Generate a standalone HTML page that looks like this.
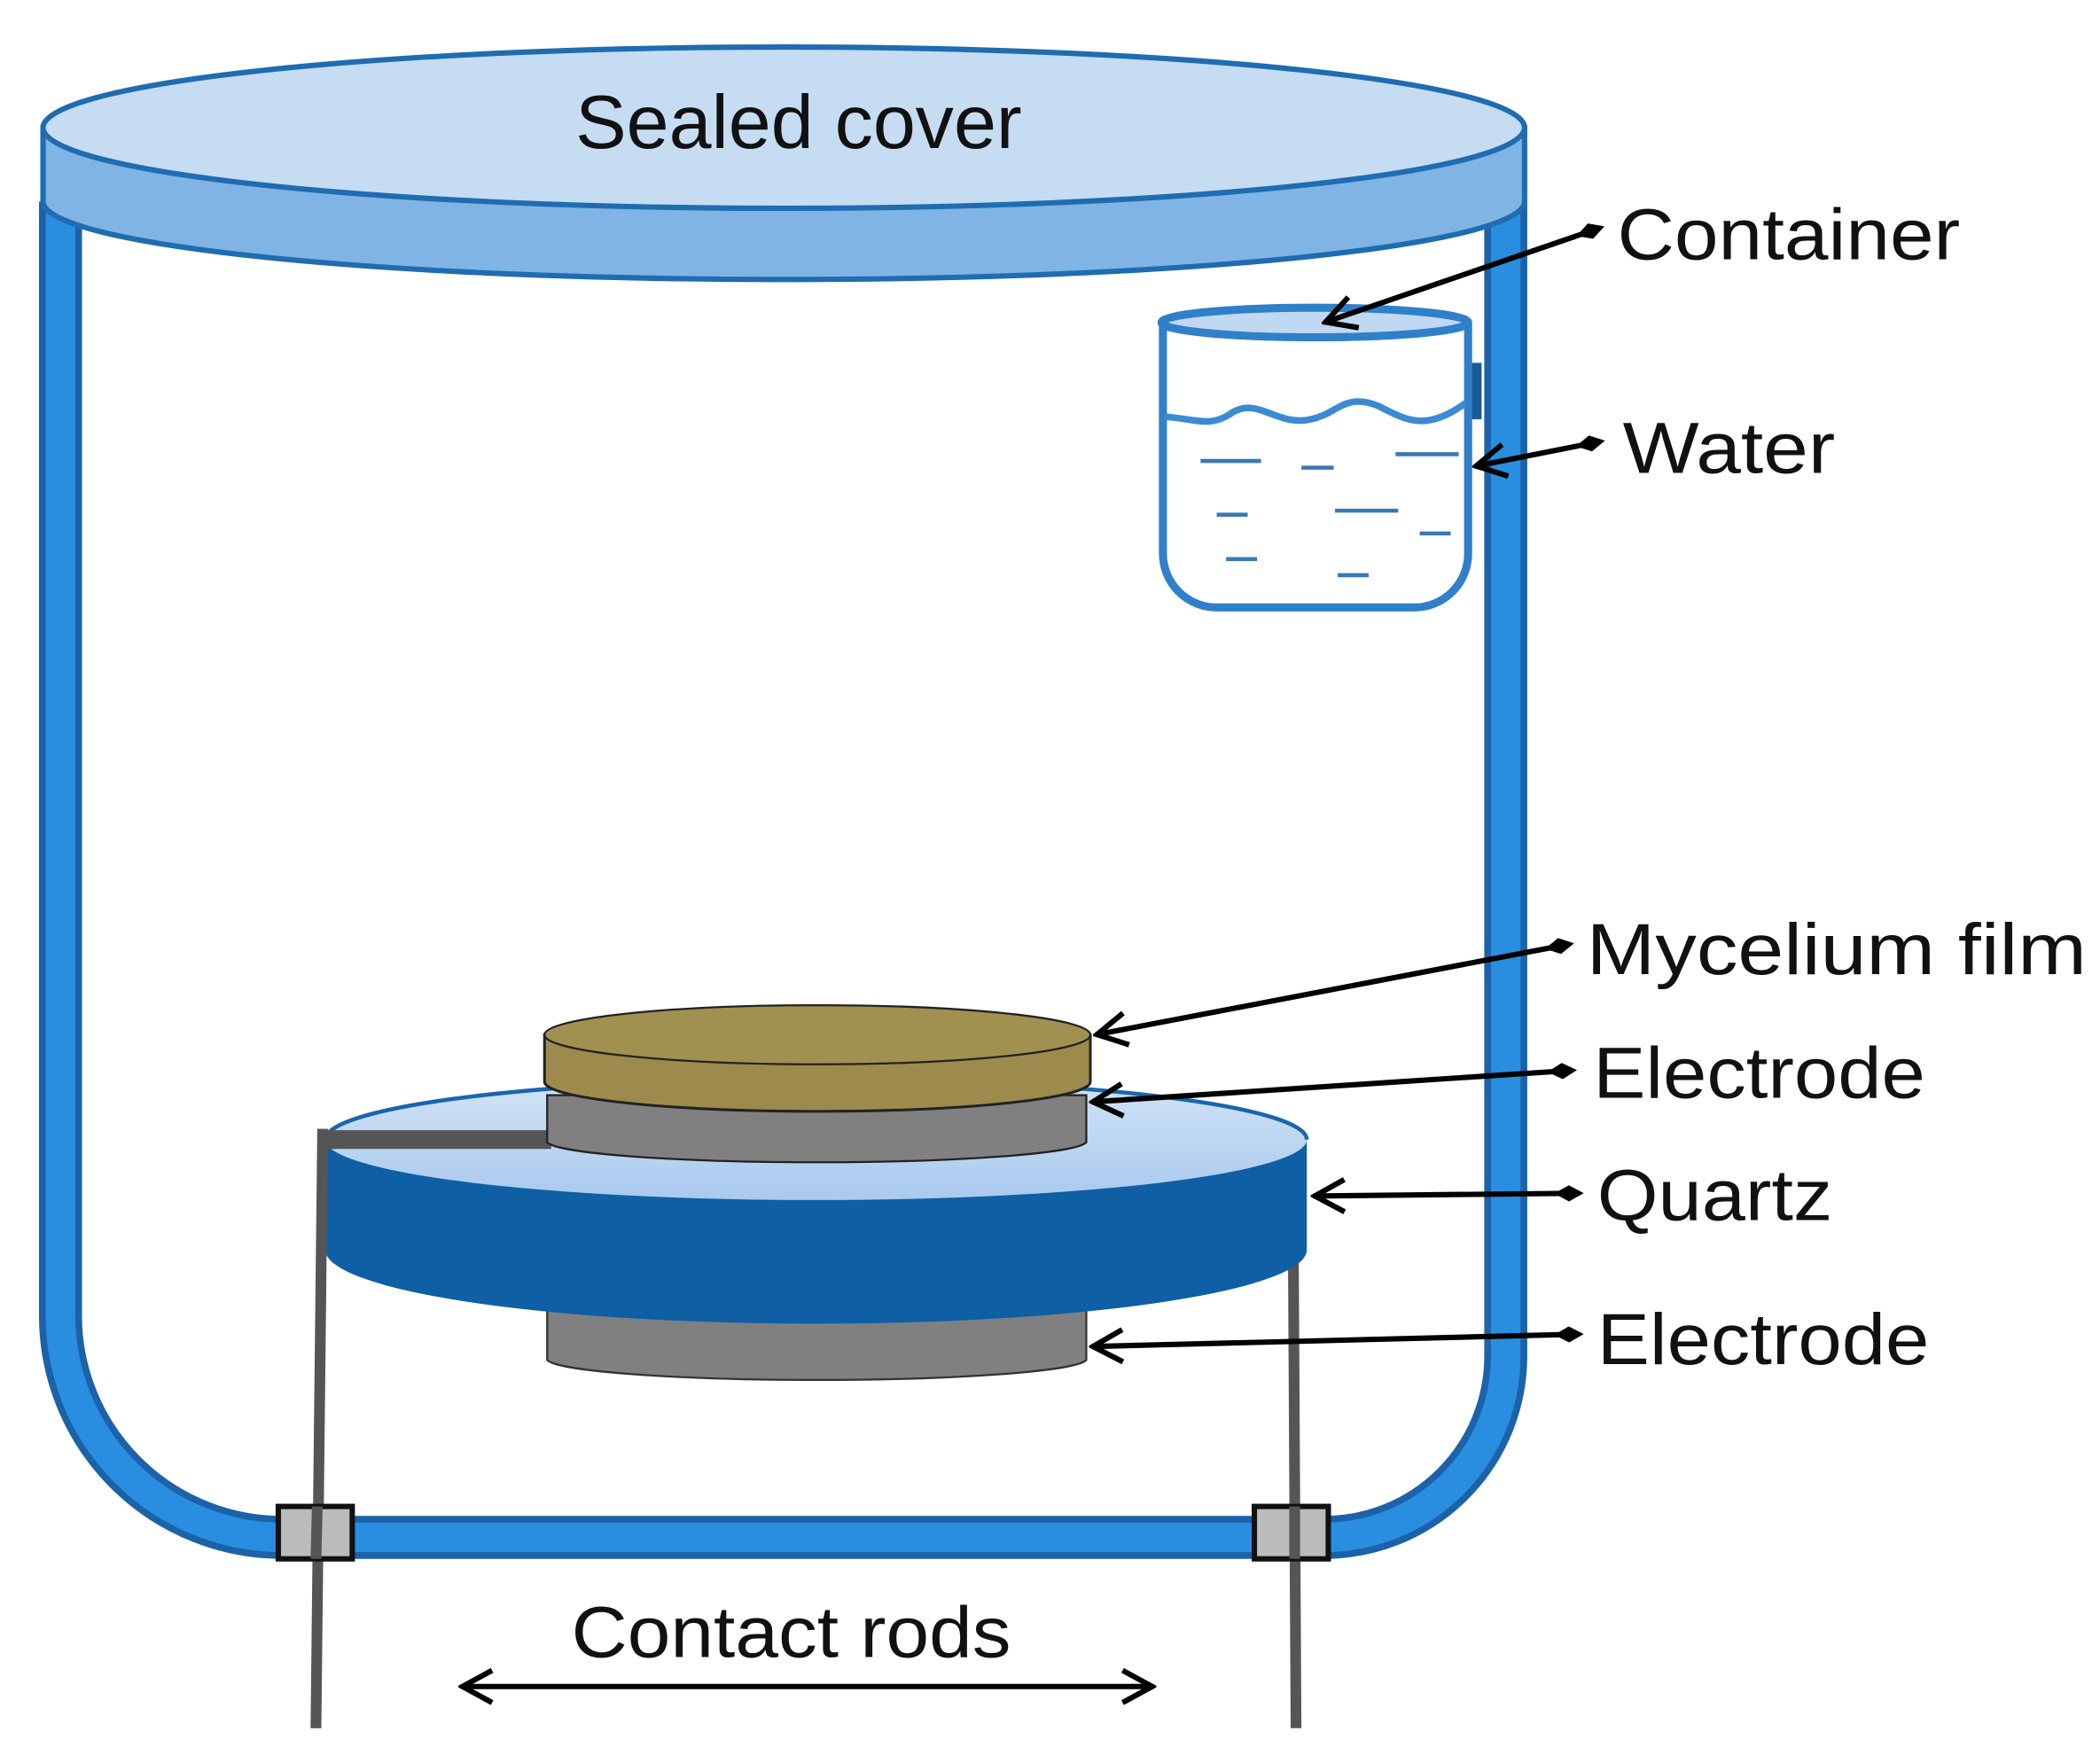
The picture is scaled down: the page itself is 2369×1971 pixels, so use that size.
<!DOCTYPE html>
<html><head><meta charset="utf-8"><style>
html,body{margin:0;padding:0;background:#fff;}
svg{display:block;}
text{font-family:"Liberation Sans",sans-serif;fill:#111;}
</style></head><body>
<svg width="2369" height="1971" viewBox="0 0 1562 1300" preserveAspectRatio="none" xmlns="http://www.w3.org/2000/svg">
<defs>
<marker id="ah" viewBox="0 0 30 30" refX="28" refY="15" markerWidth="30" markerHeight="30" markerUnits="userSpaceOnUse" orient="auto-start-reverse">
<path d="M5 3 L27 15 L5 27" fill="none" stroke="#000" stroke-width="4"/>
</marker>
<marker id="dm" viewBox="0 0 22 22" refX="11" refY="11" markerWidth="22" markerHeight="22" markerUnits="userSpaceOnUse" orient="auto">
<path d="M0 11 L11 5 L22 11 L11 17Z" fill="#000"/>
</marker>
<linearGradient id="qt" x1="0" y1="0" x2="0" y2="1"><stop offset="0" stop-color="#d2e4f6"/><stop offset="1" stop-color="#a9c9ee"/></linearGradient>
</defs>

<!-- container wall -->
<path d="M45 150 L45 980 A165 165 0 0 0 210 1144 L985 1144 A135 135 0 0 0 1120 1009 L1120 150" fill="none" stroke="#1c62a8" stroke-width="32"/>
<path d="M45 150 L45 980 A165 165 0 0 0 210 1144 L985 1144 A135 135 0 0 0 1120 1009 L1120 150" fill="none" stroke="#2a8ee0" stroke-width="22"/>

<!-- cover -->
<path d="M32 95 L32 150 A551 58 0 0 0 1134 150 L1134 95 Z" fill="#7fb4e4" stroke="#1f6cb0" stroke-width="4"/>
<ellipse cx="583" cy="95" rx="551" ry="60" fill="#c6dcf2" stroke="#1f6cb0" stroke-width="4"/>
<text x="428" y="110" font-size="56" textLength="332" lengthAdjust="spacingAndGlyphs">Sealed cover</text>

<!-- beaker -->
<rect x="1086" y="270" width="16" height="42" fill="#1a5a98"/>
<path d="M865 240 L865 412 A40 40 0 0 0 905 452 L1052 452 A40 40 0 0 0 1092 412 L1092 240" fill="#fff" stroke="#2f80c8" stroke-width="6"/>
<ellipse cx="978" cy="240" rx="114" ry="11" fill="#c0d8f2" stroke="#2f80c8" stroke-width="6"/>
<path d="M866 310 C890 312 900 318 915 308 C935 294 950 318 975 312 C995 308 1000 292 1025 302 C1045 312 1060 322 1090 300" fill="none" stroke="#3c8ad2" stroke-width="5"/>
<g stroke="#3a78b4" stroke-width="3">
<line x1="893" y1="343" x2="938" y2="343"/>
<line x1="968" y1="348" x2="992" y2="348"/>
<line x1="1038" y1="338" x2="1085" y2="338"/>
<line x1="905" y1="383" x2="928" y2="383"/>
<line x1="993" y1="380" x2="1040" y2="380"/>
<line x1="1056" y1="397" x2="1079" y2="397"/>
<line x1="912" y1="416" x2="935" y2="416"/>
<line x1="995" y1="428" x2="1018" y2="428"/>
</g>

<!-- right rod (behind quartz) -->
<line x1="962" y1="930" x2="964" y2="1286" stroke="#555" stroke-width="8"/>

<!-- bottom electrode -->
<path d="M407 975 L407 1012 A201 16 0 0 0 808 1012 L808 975 Z" fill="#808080" stroke="#333" stroke-width="1.5"/>

<!-- quartz -->
<path d="M242 848 L242 930 A365 55 0 0 0 972 930 L972 848 Z" fill="#0e5fa4"/>
<ellipse cx="607" cy="848" rx="365" ry="45" fill="url(#qt)"/>
<path d="M242 848 A365 45 0 0 1 972 848" fill="none" stroke="#1a66ae" stroke-width="3"/>

<!-- left rod -->
<g stroke="#555" fill="none">
<line x1="240" y1="840" x2="235" y2="1286" stroke-width="8"/>
<line x1="240" y1="848" x2="410" y2="848" stroke-width="14"/>
</g>

<!-- top electrode -->
<path d="M407 815 L407 850 A201 16 0 0 0 808 850 L808 815 Z" fill="#808080" stroke="#222" stroke-width="1.5"/>

<!-- mycelium -->
<path d="M405 770 L405 805 A203 22 0 0 0 811 805 L811 770 Z" fill="#9c8b4c" stroke="#222" stroke-width="2"/>
<ellipse cx="608" cy="770" rx="203" ry="22" fill="#a19150" stroke="#222" stroke-width="1.5"/>

<!-- seals -->
<rect x="207" y="1121" width="55" height="39" fill="#bbb" stroke="#111" stroke-width="4"/>
<rect x="933" y="1121" width="55" height="39" fill="#bbb" stroke="#111" stroke-width="4"/>
<line x1="236" y1="1121" x2="235" y2="1160" stroke="#555" stroke-width="8"/>
<line x1="963" y1="1121" x2="963" y2="1160" stroke="#555" stroke-width="8"/>

<!-- arrows -->
<g stroke="#000" stroke-width="4" fill="none">
<line x1="1183" y1="172" x2="985" y2="240" marker-start="url(#dm)" marker-end="url(#ah)"/>
<line x1="1183" y1="330" x2="1097" y2="347" marker-start="url(#dm)" marker-end="url(#ah)"/>
<line x1="1160" y1="704" x2="815" y2="770" marker-start="url(#dm)" marker-end="url(#ah)"/>
<line x1="1162" y1="797" x2="812" y2="820" marker-start="url(#dm)" marker-end="url(#ah)"/>
<line x1="1167" y1="888" x2="977" y2="890" marker-start="url(#dm)" marker-end="url(#ah)"/>
<line x1="1167" y1="993" x2="812" y2="1002" marker-start="url(#dm)" marker-end="url(#ah)"/>
<line x1="343" y1="1255" x2="858" y2="1255" marker-start="url(#ah)" marker-end="url(#ah)"/>
</g>

<text x="1203" y="193" font-size="54" textLength="255" lengthAdjust="spacingAndGlyphs">Container</text>
<text x="1207" y="352" font-size="54" textLength="158" lengthAdjust="spacingAndGlyphs">Water</text>
<text x="1180" y="725" font-size="54" textLength="372" lengthAdjust="spacingAndGlyphs">Mycelium film</text>
<text x="1185" y="817" font-size="54" textLength="247" lengthAdjust="spacingAndGlyphs">Electrode</text>
<text x="1188" y="908" font-size="54" textLength="175" lengthAdjust="spacingAndGlyphs">Quartz</text>
<text x="1188" y="1015" font-size="54" textLength="247" lengthAdjust="spacingAndGlyphs">Electrode</text>
<text x="425" y="1233" font-size="54" textLength="327" lengthAdjust="spacingAndGlyphs">Contact rods</text>
</svg>
</body></html>
